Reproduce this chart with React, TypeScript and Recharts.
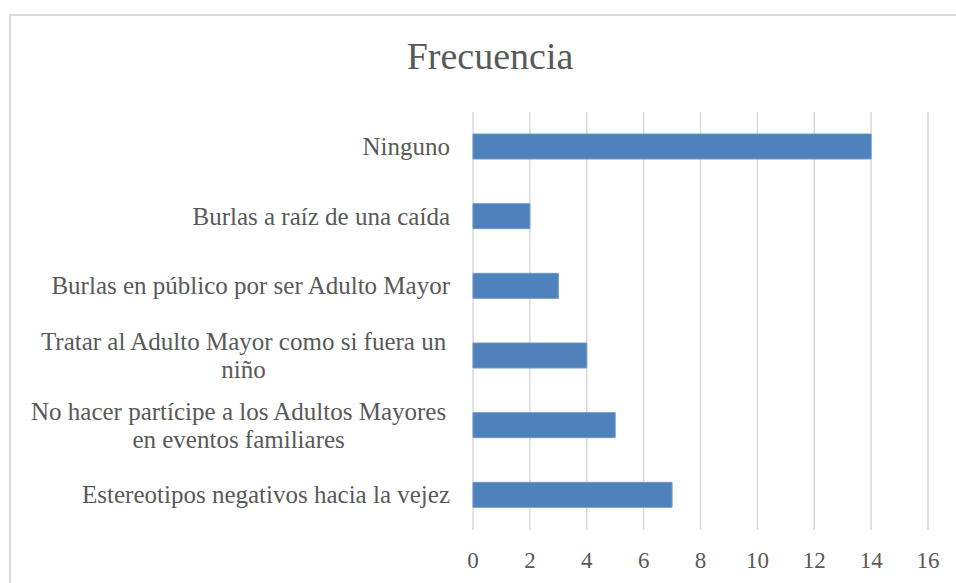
import { BarChart, Bar, XAxis, YAxis, CartesianGrid } from 'recharts';

const categories = [
  'Ninguno',
  'Burlas a raíz de una caída',
  'Burlas en público por ser Adulto Mayor',
  'Tratar al Adulto Mayor como si fuera un niño',
  'No hacer partícipe a los Adultos Mayores en eventos familiares',
  'Estereotipos negativos hacia la vejez',
];
const frecuencia = [14, 2, 3, 4, 5, 7];
const xTicks = [0, 2, 4, 6, 8, 10, 12, 14, 16];

const data = categories.map((name, i) => ({ name, value: frecuencia[i] }));

const FONT = '"Liberation Serif", "Times New Roman", serif';
const TEXT = '#595959';
const LABEL_SIZE = 25;

let ctx: CanvasRenderingContext2D | null = null;
function measure(s: string) {
  if (!ctx) ctx = document.createElement('canvas').getContext('2d');
  if (!ctx) return s.length * 10;
  ctx.font = `${LABEL_SIZE}px ${FONT}`;
  return ctx.measureText(s).width;
}

function wrap(label: string, maxW: number) {
  const words = label.split(' ');
  const lines: string[] = [];
  let cur = '';
  for (const w of words) {
    const next = cur ? cur + ' ' + w : w;
    if (cur && measure(next) > maxW) {
      lines.push(cur);
      cur = w;
    } else {
      cur = next;
    }
  }
  if (cur) lines.push(cur);
  return lines;
}

function CategoryTick(props: any) {
  const { x, y, payload } = props;
  const lines = wrap(payload.value, 430);
  const right = x - 23;
  const widest = Math.max(...lines.map((l) => measure(l + (lines.length > 1 ? ' ' : ''))));
  const cx = right - widest / 2;
  const n = lines.length;
  return (
    <g>
      {lines.map((l, i) => (
        <text
          key={i}
          x={n > 1 ? cx : right}
          y={y + 8 + (i - (n - 1) / 2) * 28}
          textAnchor={n > 1 ? 'middle' : 'end'}
          fill={TEXT}
          fontFamily={FONT}
          fontSize={LABEL_SIZE}
        >
          {l}
        </text>
      ))}
    </g>
  );
}

function ValueTick(props: any) {
  const { x, y, payload } = props;
  return (
    <text x={x} y={y + 38} textAnchor="middle" fill={TEXT} fontFamily={FONT} fontSize={23}>
      {payload.value}
    </text>
  );
}

export default function App() {
  return (
    <div
      style={{
        position: 'absolute',
        left: 0,
        top: 0,
        width: 956,
        height: 583,
        overflow: 'hidden',
        background: '#fff',
      }}
    >
      <div
        style={{
          position: 'absolute',
          left: 9,
          top: 14,
          width: 1000,
          height: 600,
          borderTop: '2px solid #d9d9d9',
          borderLeft: '2px solid #d9d9d9',
        }}
      />
      <div
        style={{
          position: 'absolute',
          left: 290,
          width: 400,
          top: 37,
          textAlign: 'center',
          fontFamily: FONT,
          fontSize: 38,
          lineHeight: 1,
          color: TEXT,
        }}
      >
        Frecuencia
      </div>
      <div style={{ position: 'absolute', left: 0, top: 0 }}>
        <BarChart
          width={956}
          height={583}
          data={data}
          layout="vertical"
          margin={{ top: 112, right: 28, left: 8, bottom: 0 }}
        >
          <CartesianGrid horizontal={false} stroke="#d9d9d9" strokeWidth={1.5} />
          <XAxis
            type="number"
            domain={[0, 16]}
            ticks={xTicks}
            interval={0}
            height={53}
            axisLine={false}
            tickLine={false}
            tickSize={0}
            tickMargin={0}
            tick={<ValueTick />}
          />
          <YAxis
            type="category"
            dataKey="name"
            width={465}
            axisLine={false}
            tickLine={false}
            tickSize={0}
            tickMargin={0}
            interval={0}
            tick={<CategoryTick />}
          />
          <Bar dataKey="value" fill="#4f81bd" stroke="#6f97c8" strokeWidth={1} barSize={25} isAnimationActive={false} />
        </BarChart>
      </div>
    </div>
  );
}
